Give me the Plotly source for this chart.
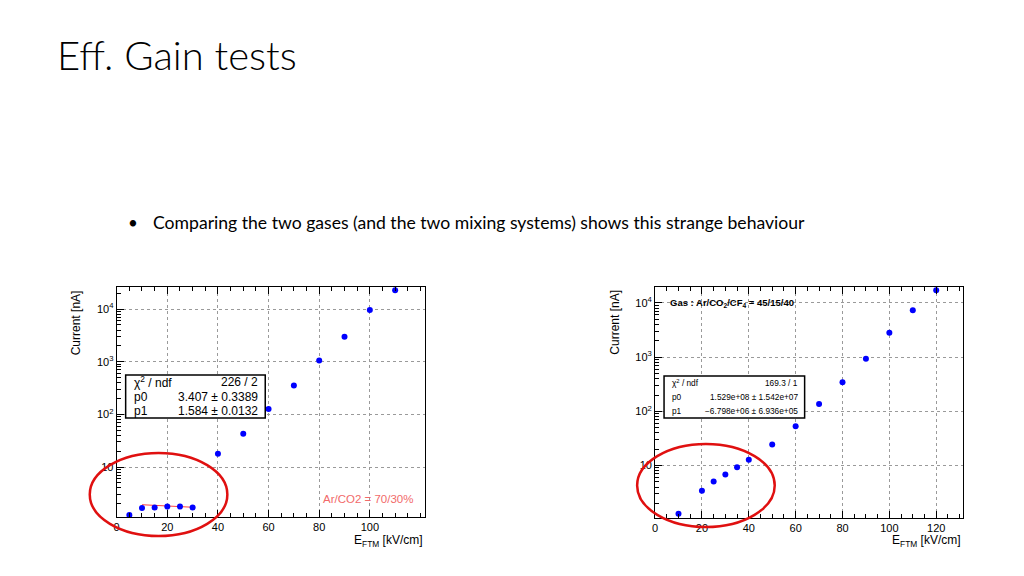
import plotly.graph_objects as go

# Ar/CO2 70/30 scan
efield_arco2 = [5, 10, 15, 20, 25, 30, 40, 50, 60, 70, 80, 90, 100, 110]
current_arco2 = [1.23, 1.66, 1.70, 1.77, 1.77, 1.70, 17.9, 43, 126, 355, 1060, 2990, 9580, 22900]
fit_x = [10, 15, 20, 25, 30]
fit_y = [1.92, 1.86, 1.81, 1.77, 1.72]

# Ar/CO2/CF4 45/15/40 scan
efield_cf4 = [10, 20, 25, 30, 35, 40, 50, 60, 70, 80, 90, 100, 110, 120]
current_cf4 = [1.28, 3.4, 5.07, 6.8, 9.3, 12.7, 24.5, 53, 136, 343, 930, 2810, 7330, 17100]

xtick_left = [0, 20, 40, 60, 80, 100]
xtick_right = [0, 20, 40, 60, 80, 100, 120]
ytick_vals = [10, 100, 1000, 10000]
ytick_text = ["10", "10<sup>2</sup>", "10<sup>3</sup>", "10<sup>4</sup>"]
minor_vals = [m * d for d in [1, 10, 100, 1000, 10000] for m in range(2, 10)]

# the page body keeps its 8px margin, so the figure is 16px smaller than the window
W, H = 1008, 560
OFF = 8
ROOT_FONT = "Liberation Sans, Arial, sans-serif"


def px(x):
    return (x - OFF) / W


def py(y):
    return 1 - (y - OFF) / H


fig = go.Figure()
fig.add_trace(go.Scatter(x=fit_x, y=fit_y, mode="lines",
                         line=dict(color="#ff4040", width=1), xaxis="x", yaxis="y"))
fig.add_trace(go.Scatter(x=efield_arco2, y=current_arco2, mode="markers",
                         marker=dict(color="#0000ff", size=6), xaxis="x", yaxis="y"))
fig.add_trace(go.Scatter(x=efield_cf4, y=current_cf4, mode="markers",
                         marker=dict(color="#0000ff", size=6), xaxis="x2", yaxis="y2"))

xcommon = dict(showline=True, mirror="ticks", linecolor="black", linewidth=1,
               ticks="inside", ticklen=7, tickcolor="black",
               minor=dict(ticks="inside", ticklen=4, dtick=5, tick0=0, tickcolor="black"),
               showgrid=True, gridcolor="#9a9a9a", griddash="dot", gridwidth=1,
               zeroline=False, tickfont=dict(family=ROOT_FONT, size=11, color="black"))
ycommon = dict(type="log", showline=True, mirror=True, linecolor="black", linewidth=1,
               ticks="inside", ticklen=7, tickcolor="black",
               tickvals=ytick_vals, ticktext=ytick_text,
               minor=dict(ticks="inside", ticklen=4, tickvals=minor_vals, tickcolor="black"),
               showgrid=True, gridcolor="#9a9a9a", griddash="dot", gridwidth=1,
               zeroline=False, tickfont=dict(family=ROOT_FONT, size=11, color="black"))

fig.update_layout(
    width=W, height=H, margin=dict(l=0, r=0, t=0, b=0),
    paper_bgcolor="white", plot_bgcolor="white", showlegend=False,
    xaxis=dict(xcommon, domain=[px(114), px(423)], range=[0, 121.7], tickvals=xtick_left,
               anchor="y"),
    yaxis=dict(ycommon, domain=[py(517), py(287)], range=[0.05, 4.42], anchor="x"),
    xaxis2=dict(xcommon, domain=[px(654), px(963)], range=[0, 131.5], tickvals=xtick_right,
                anchor="y2"),
    yaxis2=dict(ycommon, domain=[py(518), py(287)], range=[0.03, 4.295], anchor="x2"),
)

ann = []
# slide title and bullet
ann.append(dict(text="Eff. Gain tests", x=px(52), y=py(55), xanchor="left", yanchor="middle",
                font=dict(family="Lato", size=40, color="black", weight=300)))
ann.append(dict(text="•", x=px(123), y=py(222), xanchor="left", yanchor="middle",
                font=dict(family="Lato", size=17, color="black")))
ann.append(dict(text="Comparing the two gases (and the two mixing systems) shows this strange behaviour",
                x=px(148), y=py(222), xanchor="left", yanchor="middle",
                font=dict(family="Lato", size=17.6, color="black")))

# axis titles
for left, right in [(73, 423), (613, 963)]:
    ann.append(dict(text="Current [nA]", x=px(left), y=py(288), xanchor="center", yanchor="top",
                    textangle=-90, font=dict(family=ROOT_FONT, size=12, color="black")))
    ann.append(dict(text="E<sub>FTM</sub> [kV/cm]", x=px(right), y=py(531), xanchor="right",
                    yanchor="top", font=dict(family=ROOT_FONT, size=12, color="black")))

ann.append(dict(text="Ar/CO2 = 70/30%", x=px(413), y=py(499), xanchor="right", yanchor="middle",
                font=dict(family=ROOT_FONT, size=11.5, color="#f26a6a")))
ann.append(dict(text="<b>Gas : Ar/CO<sub>2</sub>/CF<sub>4</sub> = 45/15/40</b>", x=px(667), y=py(303),
                xanchor="left", yanchor="middle", font=dict(family=ROOT_FONT, size=9.5, color="black")))

# fit stat boxes
stats_left = [("χ<sup>2</sup> / ndf", "226 / 2"), ("p0", "3.407 ± 0.3389"), ("p1", "1.584 ± 0.0132")]
stats_right = [("χ<sup>2</sup> / ndf", "169.3 / 1"), ("p0", "1.529e+08 ± 1.542e+07"),
               ("p1", "−6.798e+06 ± 6.936e+05")]
shapes = []
for rows, (x0, x1, y0, y1), fs in [(stats_left, (123, 263, 375, 418), 12),
                                   (stats_right, (663, 804, 376, 418), 8.3)]:
    shapes.append(dict(type="rect", xref="paper", yref="paper", x0=px(x0), x1=px(x1),
                       y0=py(y0), y1=py(y1), line=dict(color="black", width=1.5),
                       fillcolor="white", layer="above"))
    step = (y1 - y0) / 3
    for i, (lab, val) in enumerate(rows):
        yc = y0 + step * (i + 0.5)
        ann.append(dict(text=lab, x=px(x0 + 6), y=py(yc), xanchor="left", yanchor="middle",
                        font=dict(family=ROOT_FONT, size=fs, color="black")))
        ann.append(dict(text=val, x=px(x1 - 5), y=py(yc), xanchor="right", yanchor="middle",
                        font=dict(family=ROOT_FONT, size=fs, color="black")))

# red ellipses
for x0, x1, y0, y1 in [(87, 225, 453, 536), (636, 774, 444, 527)]:
    shapes.append(dict(type="circle", xref="paper", yref="paper", x0=px(x0), x1=px(x1),
                       y0=py(y1), y1=py(y0), line=dict(color="#e01010", width=2.5)))

for a in ann:
    a.update(xref="paper", yref="paper", showarrow=False)
fig.update_layout(annotations=ann, shapes=shapes)

fig.write_html("out.html")
